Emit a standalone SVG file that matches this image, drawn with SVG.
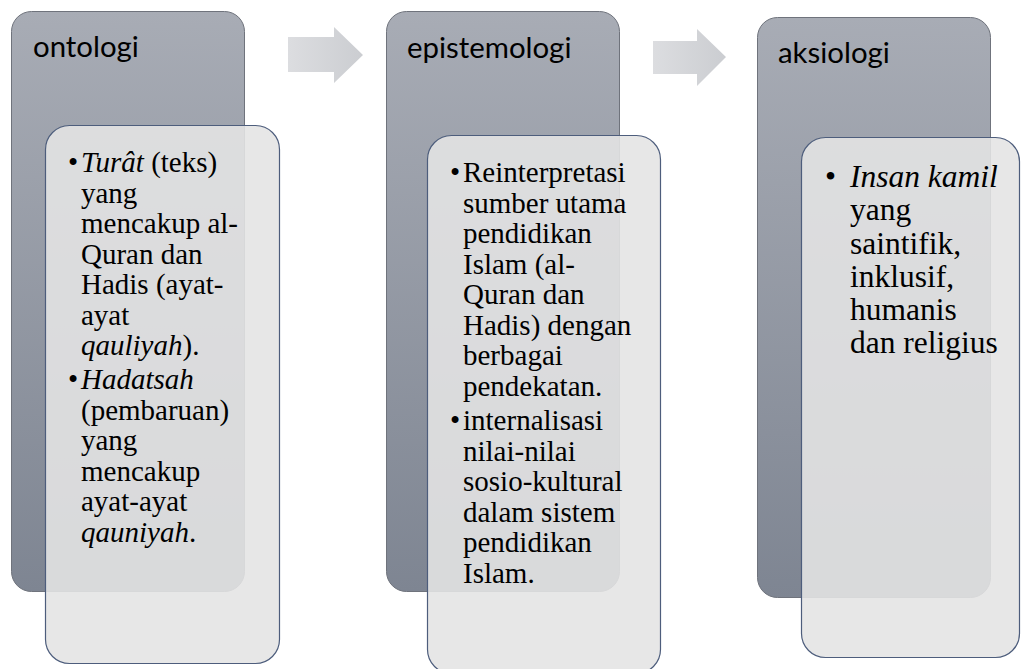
<svg xmlns="http://www.w3.org/2000/svg" width="1021" height="669" viewBox="0 0 1021 669">
<defs>
<linearGradient id="gOuter" x1="0" y1="0" x2="0" y2="1">
<stop offset="0" stop-color="#a8acb5"/>
<stop offset="1" stop-color="#7e8592"/>
</linearGradient>
<linearGradient id="gArrow" x1="0" y1="0" x2="1" y2="0">
<stop offset="0" stop-color="#dcdde0"/>
<stop offset="1" stop-color="#cbcdd1"/>
</linearGradient>
<style>
.outer{fill:url(#gOuter);stroke:#6f737c;stroke-width:1}
.inner{fill:#e4e4e4;fill-opacity:0.89;stroke:#4d5d7c;stroke-width:1.2}
.title{font-family:Lato,"Liberation Sans",sans-serif;font-size:29.4px;fill:#000}
.body{font-family:"Liberation Serif","Times New Roman",serif;font-size:29px;fill:#000}
.body3{font-family:"Liberation Serif","Times New Roman",serif;font-size:31.5px;fill:#000}
.arrow{fill:url(#gArrow)}
</style>
</defs>
<rect width="1021" height="669" fill="#fff"/>
<g id="connectors">
<polygon class="arrow" points="288,37 334,37 334,27 363,55 334,83 334,72 288,72"/>
<polygon class="arrow" points="653,41 697,41 697,29 726,57 697,86 697,74 653,74"/>
</g>
<g id="node-ontologi">
<rect class="outer" x="11.5" y="11.5" width="233" height="580" rx="20"/>
<text class="title" x="33" y="57">ontologi</text>
<rect class="inner" x="45.5" y="125.5" width="234" height="538" rx="24"/>
<text class="body">
<tspan x="68" y="172">•</tspan><tspan x="81" y="172" font-style="italic">Turât</tspan><tspan> (teks)</tspan>
<tspan x="81" y="202.5">yang</tspan>
<tspan x="81" y="233">mencakup al-</tspan>
<tspan x="81" y="263.5">Quran dan</tspan>
<tspan x="81" y="294">Hadis (ayat-</tspan>
<tspan x="81" y="324.5">ayat</tspan>
<tspan x="81" y="355" font-style="italic">qauliyah</tspan><tspan>).</tspan>
<tspan x="68" y="389">•</tspan><tspan x="81" y="389" font-style="italic">Hadatsah</tspan>
<tspan x="81" y="419.5">(pembaruan)</tspan>
<tspan x="81" y="450">yang</tspan>
<tspan x="81" y="480.5">mencakup</tspan>
<tspan x="81" y="511">ayat-ayat</tspan>
<tspan x="81" y="541.5" font-style="italic">qauniyah</tspan><tspan>.</tspan>
</text>
</g>
<g id="node-epistemologi">
<rect class="outer" x="386.5" y="11.5" width="233" height="580" rx="20"/>
<text class="title" x="407" y="58">epistemologi</text>
<rect class="inner" x="427.5" y="135.5" width="233" height="538" rx="24"/>
<text class="body">
<tspan x="450" y="182">•</tspan><tspan x="463" y="182">Reinterpretasi</tspan>
<tspan x="463" y="212.5">sumber utama</tspan>
<tspan x="463" y="243">pendidikan</tspan>
<tspan x="463" y="273.5">Islam (al-</tspan>
<tspan x="463" y="304">Quran dan</tspan>
<tspan x="463" y="334.5">Hadis) dengan</tspan>
<tspan x="463" y="365">berbagai</tspan>
<tspan x="463" y="395.5">pendekatan.</tspan>
<tspan x="450" y="430">•</tspan><tspan x="463" y="430">internalisasi</tspan>
<tspan x="463" y="460.5">nilai-nilai</tspan>
<tspan x="463" y="491">sosio-kultural</tspan>
<tspan x="463" y="521.5">dalam sistem</tspan>
<tspan x="463" y="552">pendidikan</tspan>
<tspan x="463" y="582.5">Islam.</tspan>
</text>
</g>
<g id="node-aksiologi">
<rect class="outer" x="757.5" y="17.5" width="233" height="580" rx="20"/>
<text class="title" x="778" y="63">aksiologi</text>
<rect class="inner" x="801.5" y="137.5" width="218" height="520" rx="24"/>
<text class="body3">
<tspan x="825" y="187">•</tspan><tspan x="850" y="187" font-style="italic">Insan kamil</tspan>
<tspan x="850" y="220">yang</tspan>
<tspan x="850" y="253.5">saintifik,</tspan>
<tspan x="850" y="286.5">inklusif,</tspan>
<tspan x="850" y="320">humanis</tspan>
<tspan x="850" y="353">dan religius</tspan>
</text>
</g>
</svg>
